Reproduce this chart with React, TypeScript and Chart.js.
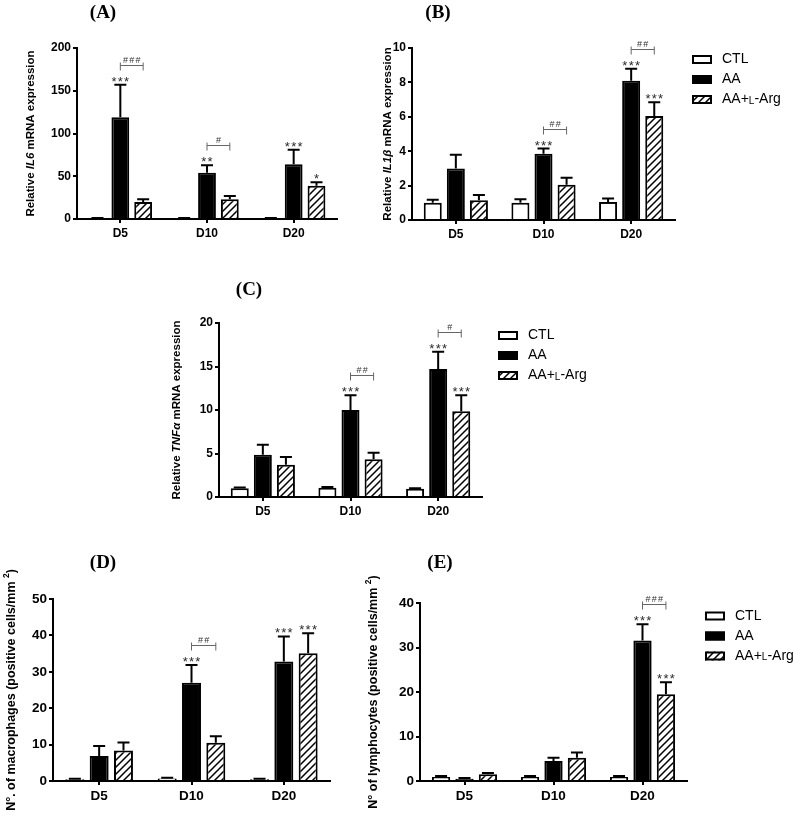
import React, { useEffect, useRef } from 'react';
import { Chart, registerables } from 'chart.js';
Chart.register(...registerables);

const SANS = "'Liberation Sans', Arial, Helvetica, sans-serif";
const SERIF = "'Liberation Serif', 'Times New Roman', serif";

// ---------- data ----------
const categories = ['D5', 'D10', 'D20'];
const seriesLabels = ['CTL', 'AA', 'AA+L-Arg'];

// (A) IL6
const il6Ctl = [1, 1, 1];
const il6CtlErr = [0.3, 0.3, 0.3];
const il6AA = [119, 54, 64];
const il6AAErr = [38, 9, 17];
const il6Arg = [20, 23, 39];
const il6ArgErr = [3, 4, 4];
const il6StarsAA = ['***', '**', '***'];
const il6StarsArg = ['', '', '*'];
const il6Hash = ['###', '#', ''];

// (B) IL1b
const il1Ctl = [1.0, 1.0, 1.05];
const il1CtlErr = [0.18, 0.2, 0.2];
const il1AA = [3.0, 3.85, 8.1];
const il1AAErr = [0.8, 0.3, 0.7];
const il1Arg = [1.15, 2.05, 6.05];
const il1ArgErr = [0.3, 0.4, 0.8];
const il1StarsAA = ['', '***', '***'];
const il1StarsArg = ['', '', '***'];
const il1Hash = ['', '##', '##'];

// (C) TNFa
const tnfCtl = [1.0, 1.05, 0.95];
const tnfCtlErr = [0.1, 0.1, 0.06];
const tnfAA = [4.85, 10.0, 14.7];
const tnfAAErr = [1.15, 1.7, 2.0];
const tnfArg = [3.7, 4.35, 9.85];
const tnfArgErr = [0.9, 0.75, 1.85];
const tnfStarsAA = ['', '***', '***'];
const tnfStarsArg = ['', '', '***'];
const tnfHash = ['', '##', '#'];

// (D) macrophages
const macCtl = [0.5, 0.7, 0.5];
const macCtlErr = [0.1, 0.2, 0.1];
const macAA = [6.9, 27.0, 32.8];
const macAAErr = [2.7, 4.9, 6.9];
const macArg = [8.4, 10.5, 35.1];
const macArgErr = [2.2, 1.8, 5.5];
const macStarsAA = ['', '***', '***'];
const macStarsArg = ['', '', '***'];
const macHash = ['', '##', ''];

// (E) lymphocytes
const lymCtl = [0.9, 0.9, 0.9];
const lymCtlErr = [0.2, 0.2, 0.2];
const lymAA = [0.5, 4.5, 31.6];
const lymAAErr = [0.15, 0.7, 3.6];
const lymArg = [1.5, 5.2, 19.5];
const lymArgErr = [0.3, 1.2, 2.7];
const lymStarsAA = ['', '', '***'];
const lymStarsArg = ['', '', '***'];
const lymHash = ['', '', '###'];

// ---------- layout ----------
type Seg = { t: string; f: string; dy?: number };
const B = (s: number) => `bold ${s}px ${SANS}`;
const BI = (s: number) => `italic bold ${s}px ${SANS}`;

const panels = [
  {
    key: 'A', title: '(A)', titleX: 103, titleY: 13,
    canvas: { l: 0, t: 0, w: 400, h: 262 },
    plot: { x0: 77, x1: 337, yTop: 48, y0: 219 },
    yMax: 200, yStep: 50, fs: 12,
    values: [il6Ctl, il6AA, il6Arg], errors: [il6CtlErr, il6AAErr, il6ArgErr],
    stars: [[], il6StarsAA, il6StarsArg], hashes: il6Hash,
    yTitle: [{ t: 'Relative ', f: B(11.5) }, { t: 'IL6', f: BI(11.5) }, { t: ' mRNA expression', f: B(11.5) }] as Seg[],
    yTitleX: 31, legend: null as null | { x: number; y: number; tx: number },
  },
  {
    key: 'B', title: '(B)', titleX: 438, titleY: 13,
    canvas: { l: 360, t: 0, w: 440, h: 262 },
    plot: { x0: 412, x1: 675, yTop: 48, y0: 220 },
    yMax: 10, yStep: 2, fs: 12,
    values: [il1Ctl, il1AA, il1Arg], errors: [il1CtlErr, il1AAErr, il1ArgErr],
    stars: [[], il1StarsAA, il1StarsArg], hashes: il1Hash,
    yTitle: [{ t: 'Relative ', f: B(11.5) }, { t: 'IL1β', f: BI(11.5) }, { t: ' mRNA expression', f: B(11.5) }] as Seg[],
    yTitleX: 388, legend: { x: 692, y: 59.5, tx: 722 },
  },
  {
    key: 'C', title: '(C)', titleX: 249, titleY: 290,
    canvas: { l: 150, t: 270, w: 650, h: 272 },
    plot: { x0: 219, x1: 482, yTop: 323, y0: 497 },
    yMax: 20, yStep: 5, fs: 12,
    values: [tnfCtl, tnfAA, tnfArg], errors: [tnfCtlErr, tnfAAErr, tnfArgErr],
    stars: [[], tnfStarsAA, tnfStarsArg], hashes: tnfHash,
    yTitle: [{ t: 'Relative ', f: B(11.5) }, { t: 'TNFα', f: BI(11.5) }, { t: ' mRNA expression', f: B(11.5) }] as Seg[],
    yTitleX: 177, legend: { x: 498, y: 335.5, tx: 528 },
  },
  {
    key: 'D', title: '(D)', titleX: 103, titleY: 563,
    canvas: { l: 0, t: 540, w: 400, h: 278 },
    plot: { x0: 53, x1: 330, yTop: 599, y0: 781 },
    yMax: 50, yStep: 10, fs: 13.5,
    values: [macCtl, macAA, macArg], errors: [macCtlErr, macAAErr, macArgErr],
    stars: [[], macStarsAA, macStarsArg], hashes: macHash,
    yTitle: [{ t: 'N°. of macrophages (positive cells/mm ', f: B(12.5) }, { t: '2', f: B(8.5), dy: -5 }, { t: ')', f: B(12.5) }] as Seg[],
    yTitleX: 12, legend: null,
  },
  {
    key: 'E', title: '(E)', titleX: 440, titleY: 563,
    canvas: { l: 350, t: 540, w: 450, h: 278 },
    plot: { x0: 420, x1: 687, yTop: 603, y0: 781 },
    yMax: 40, yStep: 10, fs: 13.5,
    values: [lymCtl, lymAA, lymArg], errors: [lymCtlErr, lymAAErr, lymArgErr],
    stars: [[], lymStarsAA, lymStarsArg], hashes: lymHash,
    yTitle: [{ t: 'N° of lymphocytes (positive cells/mm ', f: B(12.5) }, { t: '2', f: B(8.5), dy: -5 }, { t: ')', f: B(12.5) }] as Seg[],
    yTitleX: 374, legend: { x: 705, y: 616, tx: 735 },
  },
];

const Y_AXIS_W = 40;
const X_AXIS_H = 30;

function makeHatch(ctx: CanvasRenderingContext2D) {
  const n = 7;
  const c = document.createElement('canvas');
  c.width = n; c.height = n;
  const p = c.getContext('2d')!;
  p.fillStyle = '#fff';
  p.fillRect(0, 0, n, n);
  p.strokeStyle = '#000';
  p.lineWidth = 1.5;
  p.beginPath();
  p.moveTo(-1, n + 1); p.lineTo(n + 1, -1);
  p.moveTo(-1, 1); p.lineTo(1, -1);
  p.moveTo(n - 1, n + 1); p.lineTo(n + 1, n - 1);
  p.stroke();
  return ctx.createPattern(c, 'repeat')!;
}

function drawSegs(ctx: CanvasRenderingContext2D, segs: Seg[], x: number, y: number, align: 'center' | 'left') {
  let total = 0;
  for (const s of segs) { ctx.font = s.f; total += ctx.measureText(s.t).width; }
  let cx = align === 'center' ? x - total / 2 : x;
  ctx.textAlign = 'left';
  for (const s of segs) {
    ctx.font = s.f;
    ctx.fillText(s.t, cx, y + (s.dy || 0));
    cx += ctx.measureText(s.t).width;
  }
}

// draws a short symbol string with each character spaced evenly around x
function drawSpaced(ctx: CanvasRenderingContext2D, str: string, x: number, y: number, pitch: number) {
  const n = str.length;
  ctx.textAlign = 'center';
  for (let i = 0; i < n; i++) {
    ctx.fillText(str[i], x + (i - (n - 1) / 2) * pitch, y);
  }
}

function Panel({ cfg }: { cfg: typeof panels[number] }) {
  const ref = useRef<HTMLCanvasElement | null>(null);
  useEffect(() => {
    const canvas = ref.current!;
    const ctx0 = canvas.getContext('2d')!;
    const hatch = makeHatch(ctx0);
    const fills = ['#ffffff', '#000000', hatch];
    const { l, t, w, h } = cfg.canvas;
    const { x0, x1, yTop, y0 } = cfg.plot;
    const padding = {
      left: x0 - l - Y_AXIS_W,
      right: l + w - x1,
      top: yTop - t,
      bottom: t + h - y0 - X_AXIS_H,
    };

    const overlay = {
      id: 'overlay' + cfg.key,
      afterDatasetsDraw(chart: any) {
        const ctx = chart.ctx as CanvasRenderingContext2D;
        const ys = chart.scales.y;
        ctx.save();
        // error bars
        for (let s = 0; s < 3; s++) {
          const meta = chart.getDatasetMeta(s);
          meta.data.forEach((el: any, j: number) => {
            const v = cfg.values[s][j];
            const e = cfg.errors[s][j];
            const yb = ys.getPixelForValue(v);
            const ye = ys.getPixelForValue(v + e);
            ctx.strokeStyle = '#000';
            ctx.lineWidth = 2;
            ctx.beginPath();
            ctx.moveTo(el.x, yb);
            ctx.lineTo(el.x, ye);
            ctx.moveTo(el.x - 6, ye);
            ctx.lineTo(el.x + 6, ye);
            ctx.stroke();
          });
        }
        // stars
        ctx.fillStyle = '#2a2a2a';
        ctx.textBaseline = 'alphabetic';
        ctx.font = `13px ${SANS}`;
        for (let s = 1; s < 3; s++) {
          const meta = chart.getDatasetMeta(s);
          cfg.stars[s].forEach((st: string, j: number) => {
            if (!st) return;
            const el = meta.data[j];
            const ye = ys.getPixelForValue(cfg.values[s][j] + cfg.errors[s][j]);
            drawSpaced(ctx, st, el.x, ye + 1, 6.3);
          });
        }
        // brackets
        cfg.hashes.forEach((hs: string, j: number) => {
          if (!hs) return;
          const xa = chart.getDatasetMeta(1).data[j].x;
          const xb = chart.getDatasetMeta(2).data[j].x;
          const ye = ys.getPixelForValue(cfg.values[1][j] + cfg.errors[1][j]);
          const y = Math.round(ye - 20) + 0.5;
          ctx.strokeStyle = '#666';
          ctx.lineWidth = 1;
          ctx.beginPath();
          ctx.moveTo(xa, y); ctx.lineTo(xb, y);
          ctx.moveTo(xa, y - 3); ctx.lineTo(xa, y + 5);
          ctx.moveTo(xb, y - 3); ctx.lineTo(xb, y + 5);
          ctx.stroke();
          ctx.fillStyle = '#333';
          ctx.font = `9px ${SANS}`;
          drawSpaced(ctx, hs, (xa + xb) / 2, y - 2.5, 6.3);
        });
        ctx.restore();
      },
      afterDraw(chart: any) {
        const ctx = chart.ctx as CanvasRenderingContext2D;
        ctx.save();
        // panel title
        ctx.fillStyle = '#000';
        ctx.font = `bold 19px ${SERIF}`;
        ctx.textAlign = 'center';
        ctx.textBaseline = 'middle';
        ctx.fillText(cfg.title, cfg.titleX - l, cfg.titleY - t);
        // y title (rotated)
        ctx.save();
        ctx.translate(cfg.yTitleX - l, (yTop + y0) / 2 - t);
        ctx.rotate(-Math.PI / 2);
        ctx.textBaseline = 'middle';
        drawSegs(ctx, cfg.yTitle, 0, 0, 'center');
        ctx.restore();
        // legend
        if (cfg.legend) {
          const lg = cfg.legend;
          for (let i = 0; i < 3; i++) {
            const cy = lg.y + i * 20 - t;
            const bx = lg.x - l;
            ctx.fillStyle = fills[i] as any;
            ctx.fillRect(bx, cy - 4.5, 20, 9);
            ctx.strokeStyle = '#000';
            ctx.lineWidth = 2;
            ctx.strokeRect(bx + 1, cy - 3.5, 18, 7);
            ctx.fillStyle = '#000';
            ctx.textBaseline = 'middle';
            const segs: Seg[] = i === 2
              ? [{ t: 'AA+', f: `14px ${SANS}` }, { t: 'L', f: `10px ${SANS}`, dy: 1.5 }, { t: '-Arg', f: `14px ${SANS}` }]
              : [{ t: seriesLabels[i], f: `14px ${SANS}` }];
            drawSegs(ctx, segs, lg.tx - l, cy, 'left');
          }
        }
        ctx.restore();
      },
    };

    const gridCfg = {
      display: true, drawOnChartArea: false, drawTicks: true, tickLength: 4,
      color: '#000', lineWidth: 2, offset: false,
    };

    const chart = new Chart(canvas, {
      type: 'bar',
      data: {
        labels: categories,
        datasets: [0, 1, 2].map((s) => ({
          label: seriesLabels[s],
          data: cfg.values[s],
          backgroundColor: fills[s] as any,
          borderColor: '#000',
          borderWidth: 2,
          borderSkipped: 'bottom' as const,
          barPercentage: 0.78,
          categoryPercentage: 0.79,
        })),
      },
      options: {
        responsive: false,
        animation: false,
        devicePixelRatio: 1,
        layout: { padding },
        plugins: { legend: { display: false }, tooltip: { enabled: false } },
        scales: {
          x: {
            grid: gridCfg as any,
            border: { display: true, color: '#000', width: 2 },
            ticks: { color: '#000', padding: 3, font: { family: SANS, size: cfg.fs, weight: 'bold' } },
            afterFit: (s: any) => { s.height = X_AXIS_H; },
          },
          y: {
            min: 0, max: cfg.yMax,
            grid: gridCfg as any,
            border: { display: true, color: '#000', width: 2 },
            ticks: { stepSize: cfg.yStep, color: '#000', padding: 2, font: { family: SANS, size: cfg.fs, weight: 'bold' } },
            afterFit: (s: any) => { s.width = Y_AXIS_W; },
          },
        },
      },
      plugins: [overlay],
    });
    return () => chart.destroy();
  }, []);
  const { l, t, w, h } = cfg.canvas;
  return (
    <canvas
      ref={ref}
      width={w}
      height={h}
      style={{ position: 'absolute', left: l, top: t, width: w, height: h }}
    />
  );
}

export default function App() {
  return (
    <div style={{ position: 'absolute', left: 0, top: 0, width: 800, height: 818, background: '#fff', overflow: 'hidden' }}>
      {panels.map((p) => (
        <Panel key={p.key} cfg={p} />
      ))}
    </div>
  );
}
